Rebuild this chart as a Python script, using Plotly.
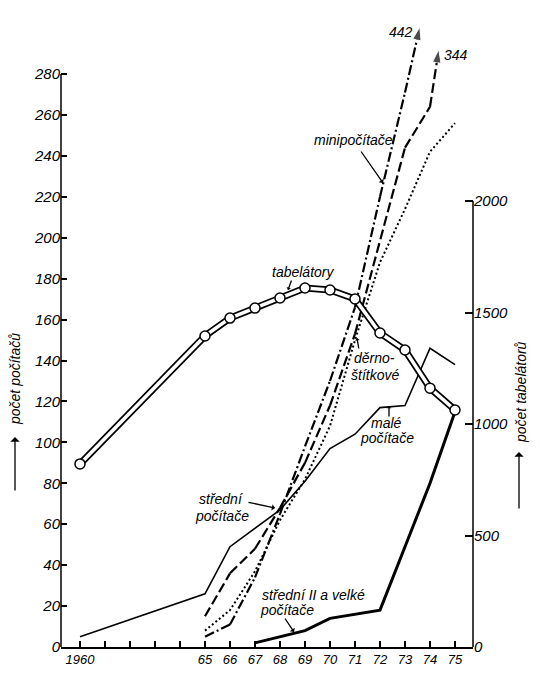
import plotly.graph_objects as go

# data
years_all = [1960, 1965, 1966, 1967, 1968, 1969, 1970, 1971, 1972, 1973, 1974, 1975]
years_65 = [1965, 1966, 1967, 1968, 1969, 1970, 1971, 1972, 1973, 1974, 1975]
years_67 = [1967, 1968, 1969, 1970, 1971, 1972, 1973, 1974, 1975]

tabelatory = [821, 1395, 1475, 1520, 1565, 1610, 1601, 1561, 1408, 1332, 1161, 1063]
male_pocitace = [5, 26, 49, 58, 67, 81, 97, 104, 117, 118, 146, 138]
stredni_pocitace = [15, 36, 48, 68, 90, 118, 153, 199, 244, 264, 344]
minipocitace = [5, 11, 34, 65, 98, 130, 166, 220, 271, 325, 442]
dernostitkove = [8, 18, 37, 62, 82, 108, 150, 188, 214, 242, 256]
stredni_II_velke = [2, 5, 8, 14, 16, 18, 49, 80, 115]

x_ticks = list(range(1960, 1976))
x_ticktext = ["1960", "", "", "", "", "65", "66", "67", "68", "69",
              "70", "71", "72", "73", "74", "75"]
y_ticks = list(range(0, 281, 20))
y2_ticks = [0, 500, 1000, 1500, 2000]

# where the two steep lines leave the drawing (arrow tips)
CUT_MINI = 303
CUT_STREDNI = 292

FONT = "Liberation Sans, Arial, sans-serif"
W, H = 540, 680
PAGE_OFFSET = 8  # browser body margin
# plot area in page pixels
PX0, PX1, PY0, PY1 = 61, 473, 20, 647
L = PX0 - PAGE_OFFSET
T = PY0 - PAGE_OFFSET
R = W - (PX1 - PAGE_OFFSET)
B = H - (PY1 - PAGE_OFFSET)


def clip_at(xs, ys, cut):
    # stop the line where it crosses the cut value
    out_x, out_y = [xs[0]], [ys[0]]
    for i in range(1, len(xs)):
        if ys[i] >= cut:
            f = (cut - ys[i - 1]) / (ys[i] - ys[i - 1])
            out_x.append(xs[i - 1] + f * (xs[i] - xs[i - 1]))
            out_y.append(cut)
            break
        out_x.append(xs[i])
        out_y.append(ys[i])
    return out_x, out_y


def paper(px, py):
    return (px - PX0) / (PX1 - PX0), (PY1 - py) / (PY1 - PY0)


fig = go.Figure()

# střední II a velké počítače
fig.add_trace(go.Scatter(x=years_67, y=stredni_II_velke, mode="lines",
                         line=dict(color="black", width=3)))
# malé počítače
fig.add_trace(go.Scatter(x=years_all, y=male_pocitace, mode="lines",
                         line=dict(color="black", width=1.6)))
# děrnoštítkové
fig.add_trace(go.Scatter(x=years_65, y=dernostitkove, mode="lines",
                         line=dict(color="black", width=2, dash="2px,2.5px")))
# střední počítače (344)
sx, sy = clip_at(years_65, stredni_pocitace, CUT_STREDNI)
fig.add_trace(go.Scatter(x=sx, y=sy, mode="lines+markers",
                         line=dict(color="black", width=2.2, dash="10px,4px"),
                         marker=dict(symbol="arrow", angleref="previous", color="black",
                                     size=[0] * (len(sx) - 1) + [14])))
# minipočítače (442)
mx, my = clip_at(years_65, minipocitace, CUT_MINI)
fig.add_trace(go.Scatter(x=mx, y=my, mode="lines+markers",
                         line=dict(color="black", width=2.2, dash="10px,3px,2px,3px"),
                         marker=dict(symbol="arrow", angleref="previous", color="black",
                                     size=[0] * (len(mx) - 1) + [14])))
# tabelátory, double line with hollow circles
fig.add_trace(go.Scatter(x=years_all, y=tabelatory, mode="lines", yaxis="y2",
                         line=dict(color="black", width=7)))
fig.add_trace(go.Scatter(x=years_all, y=tabelatory, mode="lines+markers", yaxis="y2",
                         line=dict(color="white", width=3.5),
                         marker=dict(symbol="circle", size=10, color="white",
                                     line=dict(color="black", width=1.5))))

tick_font = dict(family=FONT, size=15, color="black", style="italic")
fig.update_layout(
    template="none",
    width=W, height=H,
    margin=dict(l=L, r=R, t=T, b=B, autoexpand=False),
    paper_bgcolor="white", plot_bgcolor="white",
    showlegend=False,
    xaxis=dict(range=[1959.24, 1975.72], tickvals=x_ticks, ticktext=x_ticktext,
               ticks="inside", ticklen=6, tickwidth=1.5, tickcolor="black",
               showline=True, linewidth=1.5, linecolor="black", automargin=False,
               showgrid=False, zeroline=False,
               tickfont=dict(family=FONT, size=13, color="black", style="italic")),
    yaxis=dict(range=[0, 306.4], tickvals=y_ticks, ticks="inside", ticklen=6,
               tickwidth=1.5, tickcolor="black", showline=False, automargin=False,
               showgrid=False, zeroline=False, tickfont=tick_font),
    yaxis2=dict(range=[0, 2812], tickvals=y2_ticks, overlaying="y", side="right",
                ticks="inside", ticklen=8, tickwidth=1.5, tickcolor="black",
                showline=False, showgrid=False, zeroline=False, automargin=False,
                tickfont=tick_font),
)

# axis lines only as long as the scales
fig.add_shape(type="line", xref="paper", yref="y", x0=0, x1=0, y0=0, y1=280,
              line=dict(color="black", width=1.5))
fig.add_shape(type="line", xref="paper", yref="y2", x0=1, x1=1, y0=0, y1=2000,
              line=dict(color="black", width=1.5))

label_font = dict(family=FONT, size=14, color="black", style="italic")
labels = [
    ("442", 401, 32), ("344", 456, 55),
    ("minipočítače", 353, 140), ("tabelátory", 303, 272),
    ("děrno-", 374, 358), ("štítkové", 375, 375),
    ("malé", 386, 423), ("počítače", 387, 438),
    ("střední", 221, 499), ("počítače", 222, 516),
    ("střední II a velké", 313, 595), ("počítače", 287, 610),
]
for text, px, py in labels:
    xp, yp = paper(px, py)
    fig.add_annotation(x=xp, y=yp, xref="paper", yref="paper", text=text,
                       showarrow=False, font=label_font, xanchor="center", yanchor="middle")

# axis titles
for text, px, py in [("počet počítačů", 15, 379), ("počet tabelátorů", 521, 392)]:
    xp, yp = paper(px, py)
    fig.add_annotation(x=xp, y=yp, xref="paper", yref="paper", text=text, textangle=-90,
                       showarrow=False, font=label_font, xanchor="center", yanchor="middle")

# pointer arrows: tip, tail
pointers = [
    ((383, 183), (360, 150), 0.8), ((288, 290), (292, 279), 0.6),
    ((357, 338), (359, 350), 0.6), ((389, 406), (389, 418), 0.6),
    ((275, 508), (247, 502), 0.8), ((294, 632), (284, 617), 0.8),
    ((15, 437), (15, 492), 1.2), ((519, 452), (519, 510), 1.2),
]
for (tx, ty), (sx0, sy0), size in pointers:
    xp, yp = paper(tx, ty)
    fig.add_annotation(x=xp, y=yp, xref="paper", yref="paper", text="",
                       showarrow=True, ax=sx0 - tx, ay=sy0 - ty,
                       arrowhead=1, arrowsize=size, arrowwidth=1.3, arrowcolor="black")

fig.write_html("out.html")
